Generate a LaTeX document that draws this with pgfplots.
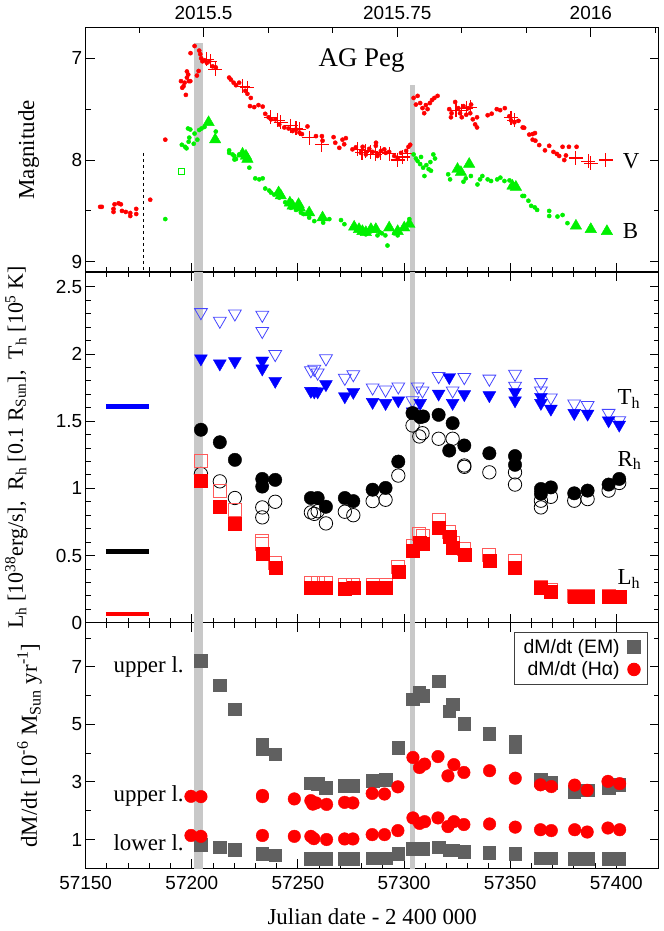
\documentclass[border=0pt]{standalone}
\usepackage{fontspec}
\setmainfont{Liberation Serif}
\newfontfamily\sansf{Liberation Sans}
\usepackage{pgfplots}
\pgfplotsset{compat=1.18}

\definecolor{gpred}{RGB}{255,0,0}
\definecolor{gpgreen}{RGB}{0,240,0}
\definecolor{gpblue}{RGB}{0,0,255}
\definecolor{lblue}{RGB}{70,70,255}
\definecolor{lred}{RGB}{255,90,90}
\definecolor{band}{RGB}{200,200,200}
\definecolor{emgray}{RGB}{96,96,96}

\pgfplotsset{
  agbase/.style={
    scale only axis, width=573bp, xmin=57150, xmax=57420,
    scaled x ticks=false, scaled y ticks=false,
    axis line style={line width=1.1bp},
    tick style={black, line width=0.9bp},
    major tick length=9bp, minor tick length=5bp,
    tick label style={font=\sansf\fontsize{19}{19}\selectfont},
    /pgf/number format/assume math mode=true,
    xtick={57150,57200,57250,57300,57350,57400}, minor x tick num=4,
  },
  bandstyle/.style={fill=band, draw=none, forget plot},
  ylab/.style={every axis y label/.style={at={(axis description cs:#1,0.5)}, rotate=90, anchor=center, font=\fontsize{23}{24}\selectfont}},
}

\begin{document}
\begin{tikzpicture}
\useasboundingbox (0,0) rectangle (664bp,-931bp);

% ---------------- top panel: magnitudes
\begin{axis}[agbase, name=top, at={(85.7bp,-272bp)}, anchor=south west,
  height=244.3bp, ymin=6.7, ymax=9.1, y dir=reverse,
  xtick pos=bottom, xticklabels={},
  ytick={7,8,9}, minor y tick num=1,
  ylabel={Magnitude}, ylab=-0.0995,
]
\addplot[bandstyle] coordinates {(57201.1,6.85) (57205.4,6.85) (57205.4,9.2) (57201.1,9.2)} -- cycle;
\addplot[bandstyle] coordinates {(57302.8,7.26) (57305.0,7.26) (57305.0,9.2) (57302.8,9.2)} -- cycle;
\addplot[black, dashed, line width=0.8bp, dash pattern=on 3bp off 3bp, forget plot] coordinates {(57177.2,7.93) (57177.2,9.2)};
% V dots
\addplot[only marks, mark=*, mark size=2.1bp, color=gpred] coordinates {
(57156.8,8.46) (57157.6,8.46) (57163.1,8.48) (57163.1,8.51) (57163.6,8.435) (57165.5,8.425) (57166.6,8.435) (57167.1,8.5) (57168.9,8.51) (57171.0,8.52) (57171.0,8.55) (57173.8,8.48) (57173.8,8.53) (57180.4,8.39) (57187.5,7.80)
(57194.9,7.225) (57195.5,7.29) (57196.1,7.275) (57196.6,7.24) (57197.2,7.36) (57197.7,7.13) (57197.7,7.19) (57198.3,7.16) (57198.6,7.225) (57199.3,7.225) (57199.4,6.95) (57201.3,6.88) (57202.4,7.17) (57203.2,7.125) (57203.5,6.925) (57204.0,6.96) (57204.4,7.0) (57205.0,7.03) (57206.0,7.02) (57207.1,7.045) (57208.2,7.03) (57209.8,7.08) (57211.3,7.09) (57217.6,7.19) (57219.7,7.24)
(57218.4,7.21) (57220.8,7.265) (57222.3,7.24) (57225.2,7.32) (57226.2,7.35) (57227.8,7.39) (57227.4,7.47) (57229.4,7.48) (57231.4,7.46) (57233.4,7.475) (57234.6,7.546) (57236.2,7.58) (57237.3,7.6) (57239.4,7.6) (57241.2,7.65) (57243.6,7.68) (57245.6,7.69) (57247.5,7.715) (57249.1,7.70) (57250.7,7.73) (57251.9,7.745) (57254.5,7.67) (57258.5,7.765) (57261.3,7.765) (57261.6,7.81) (57266.8,7.775) (57267.6,7.83) (57269.5,7.88) (57271.0,7.80) (57271.8,7.845) (57272.6,7.785) (57275.7,7.895) (57277.3,7.875) (57279.7,7.93) (57280.5,7.87) (57282.0,7.945) (57283.6,7.89) (57285.2,7.92) (57286.7,7.86) (57287.5,7.96)
(57286.8,7.83) (57287.6,7.94) (57289.1,7.91) (57290.7,7.895) (57291.4,7.93) (57293.0,7.92) (57295.4,7.96) (57297.0,7.99) (57298.6,7.93) (57301.0,7.91) (57302.1,7.87) (57302.9,7.85)
(57304.5,7.39) (57305.6,7.455) (57306.4,7.37) (57307.6,7.44) (57308.7,7.49) (57309.5,7.54) (57310.3,7.46) (57311.1,7.50) (57312.2,7.44) (57313.2,7.41) (57314.3,7.39) (57315.8,7.37) (57321.3,7.50) (57322.1,7.58) (57322.4,7.54) (57324.1,7.43) (57325.6,7.49) (57326.4,7.54) (57327.2,7.58) (57328.0,7.47) (57329.3,7.555) (57330.4,7.49) (57331.2,7.54) (57331.6,7.455) (57332.4,7.60) (57333.5,7.65) (57334.4,7.58) (57334.4,7.68) (57339.4,7.56) (57341.3,7.545) (57343.7,7.50) (57345.3,7.51) (57347.5,7.49) (57349.6,7.57) (57350.4,7.61) (57352.0,7.63) (57353.9,7.615) (57355.9,7.68)
(57356.6,7.683) (57359.0,7.75) (57360.6,7.745) (57361.7,7.735) (57360.6,7.80) (57361.9,7.81) (57363.7,7.853) (57366.4,7.905) (57368.4,7.86) (57370.4,7.92) (57372.0,7.94) (57373.1,7.96) (57374.7,7.87) (57375.5,8.0) (57376.3,7.955) (57377.7,7.87) (57381.3,7.87)
};
% V crosses
\addplot[only marks, mark=+, mark size=7bp, color=gpred, mark options={line width=1.1bp}] coordinates {
(57207.1,7.01) (57208.7,7.03) (57211.0,7.11) (57223.9,7.275) (57226.2,7.29) (57237.2,7.58) (57240.4,7.61) (57241.9,7.63) (57246.6,7.665) (57249.1,7.69) (57250.7,7.70) (57255.3,7.78) (57261.3,7.85) (57278.1,7.895) (57280.2,7.93) (57282.0,7.91) (57284.4,7.92) (57286.4,7.945) (57289.1,7.93) (57293.0,7.94) (57297.0,8.0) (57299.4,7.97) (57301.7,7.94) (57324.5,7.51) (57327.0,7.515) (57329.3,7.49) (57331.2,7.48) (57350.4,7.585) (57352.0,7.61) (57381.0,7.98) (57386.8,8.01) (57388.0,8.03) (57395.1,8.0)
};
% B dots
\addplot[only marks, mark=*, mark size=2.1bp, color=gpgreen] coordinates {
(57187.5,8.58) (57195.3,7.85) (57196.8,7.87) (57197.5,7.885) (57198.2,7.69) (57198.8,7.78) (57198.5,7.82) (57199.3,7.70) (57201.3,7.74) (57200.9,7.84) (57202.6,7.80) (57203.5,7.705) (57204.6,7.69) (57206.0,7.675) (57211.3,7.72) (57217.6,7.905) (57219.2,7.945) (57220.1,7.995)
(57217.6,7.93) (57220.0,7.96) (57220.8,7.99) (57222.3,7.945) (57227.1,8.075) (57229.9,8.18) (57231.8,8.19) (57233.4,8.18) (57234.6,8.28) (57236.5,8.30) (57237.3,8.32) (57238.8,8.34) (57241.2,8.37) (57244.0,8.415) (57246.7,8.47) (57249.1,8.49) (57251.4,8.517) (57252.5,8.53) (57255.3,8.566) (57257.7,8.60) (57261.9,8.615) (57264.8,8.58) (57270.3,8.59) (57271.9,8.63) (57275.7,8.665) (57277.3,8.68) (57279.7,8.71) (57282.0,8.73) (57284.4,8.70) (57286.7,8.68) (57287.5,8.74)
(57288.6,8.71) (57289.6,8.72) (57291.2,8.74) (57292.2,8.84) (57295.4,8.72) (57297.0,8.74) (57302.5,8.58) (57304.5,7.945) (57305.6,7.985) (57306.4,8.01) (57307.6,8.04) (57308.0,7.97) (57309.0,8.075) (57309.6,8.157) (57310.5,8.05) (57311.6,8.09) (57312.4,8.02) (57312.7,8.105) (57313.8,7.945) (57314.6,7.985) (57320.8,8.14) (57321.7,8.19) (57328.0,8.213) (57329.1,8.18) (57331.5,8.157) (57334.6,8.24) (57335.8,8.19) (57336.9,8.157) (57339.4,8.19) (57341.0,8.206) (57343.9,8.19) (57345.4,8.173) (57347.3,8.206) (57349.7,8.2) (57355.8,8.353)
(57356.6,8.353) (57358.6,8.40) (57359.9,8.45) (57361.6,8.465) (57362.7,8.49) (57368.4,8.50) (57368.4,8.55) (57372.3,8.555) (57374.7,8.54) (57377.0,8.62)
};
% B triangles
\addplot[only marks, mark=triangle*, mark size=6.6bp, color=gpgreen] coordinates {
(57207.9,7.63) (57211.0,7.80) (57223.9,7.94) (57225.5,7.96) (57226.2,7.99) (57240.9,8.32) (57241.9,8.35) (57246.2,8.42) (57247.5,8.45) (57250.3,8.435) (57250.9,8.47) (57255.3,8.517) (57261.6,8.566) (57276.5,8.657) (57278.8,8.68) (57280.4,8.70) (57282.0,8.71) (57284.4,8.68) (57286.7,8.68) (57293.0,8.665) (57297.0,8.70) (57300.1,8.665) (57302.5,8.63) (57325.2,8.09) (57326.8,8.12) (57330.7,8.04) (57351.1,8.255) (57352.7,8.265) (57381.0,8.647) (57388.0,8.68) (57395.6,8.70)
};
% B open square
\addplot[only marks, mark=square, mark size=2.8bp, color=gpgreen, mark options={line width=0.9bp}] coordinates {(57195.0,8.115)};
\node[font=\fontsize{27}{27}\selectfont] at (axis cs:57280,7.02) {AG Peg};
\node[font=\fontsize{23}{23}\selectfont, anchor=west] at (axis cs:57401.5,8.01) {V};
\node[font=\fontsize{23}{23}\selectfont, anchor=west] at (axis cs:57401.5,8.70) {B};
\end{axis}

% year axis on top
\begin{axis}[agbase, at={(85.7bp,-272bp)}, anchor=south west,
  height=244.3bp, ymin=6.7, ymax=9.1, hide y axis, axis x line*=top,
  xtick={57205.5,57296.8,57388.0}, xticklabels={2015.5,2015.75,2016},
  minor xtick={57175.1,57235.9,57266.4,57327.2,57357.6,57418.5},
  xticklabel style={yshift=4bp},
]
\addplot[draw=none] coordinates {(57200,7)};
\end{axis}

% ---------------- middle panel: L, R, T
\begin{axis}[agbase, name=mid, at={(85.7bp,-622.7bp)}, anchor=south west,
  height=350.7bp, ymin=0, ymax=2.61,
  xticklabels={},
  ytick={0,0.5,1,1.5,2,2.5}, yticklabels={0,0.5,1,1.5,2,2.5}, minor y tick num=4,
  ylabel={L\textsubscript{h} [10\textsuperscript{38}erg/s],\ \ R\textsubscript{h} [0.1 R\textsubscript{Sun}],\ \ T\textsubscript{h} [10\textsuperscript{5} K]},
  ylab=-0.121,
  every axis y label/.append style={font=\fontsize{22}{23}\selectfont},
]
\addplot[bandstyle] coordinates {(57201.1,-1) (57205.4,-1) (57205.4,3) (57201.1,3)} -- cycle;
\addplot[bandstyle] coordinates {(57302.8,-1) (57305.0,-1) (57305.0,3) (57302.8,3)} -- cycle;
\addplot[gpblue, line width=4.5bp] coordinates {(57159.5,1.61) (57179.6,1.61)};
\addplot[black, line width=4.5bp] coordinates {(57159.5,0.53) (57179.6,0.53)};
\addplot[gpred, line width=4.5bp] coordinates {(57159.5,0.063) (57179.6,0.063)};
% T open
\addplot[only marks, mark=triangle, mark size=7.4bp, color=lblue, mark options={rotate=180, line width=0.8bp}] coordinates {
(57204.3,2.31) (57213.2,2.246) (57220.3,2.30) (57233.2,2.29) (57233.2,2.17) (57239.3,1.998) (57256.1,1.878) (57257.7,1.888) (57259.3,1.86) (57263.2,1.966) (57272.1,1.821) (57276.1,1.848) (57285.2,1.749) (57291.3,1.734) (57297.3,1.757) (57304.0,1.654) (57306.4,1.757) (57308.7,1.727) (57316.3,1.834) (57322.9,1.727) (57328.4,1.827) (57340.2,1.815) (57352.3,1.851) (57352.3,1.762) (57364.5,1.789) (57364.5,1.727) (57369.2,1.675) (57380.2,1.63) (57386.5,1.618) (57396.4,1.56) (57401.4,1.505)
};
% T filled
\addplot[only marks, mark=triangle*, mark size=7.4bp, color=gpblue, mark options={rotate=180}] coordinates {
(57204.3,1.966) (57213.2,1.928) (57220.3,1.945) (57233.2,1.95) (57233.2,1.891) (57239.3,1.799) (57256.1,1.724) (57257.7,1.72) (57259.3,1.72) (57263.2,1.774) (57272.1,1.684) (57276.1,1.717) (57285.2,1.642) (57291.3,1.634) (57297.3,1.654) (57304.0,1.572) (57307.6,1.635) (57316.3,1.704) (57321.3,1.827) (57322.9,1.635) (57328.4,1.70) (57340.2,1.692) (57352.3,1.717) (57352.3,1.654) (57364.5,1.68) (57364.5,1.635) (57369.2,1.592) (57380.2,1.56) (57386.5,1.555) (57396.4,1.505) (57401.4,1.473)
};
% R open
\addplot[only marks, mark=o, mark size=6.7bp, color=black, mark options={line width=0.8bp}] coordinates {
(57204.3,1.107) (57213.2,1.052) (57220.3,0.928) (57233.2,0.858) (57233.2,0.784) (57239.3,0.90) (57256.1,0.821) (57257.7,0.81) (57259.3,0.83) (57263.2,0.739) (57272.1,0.826) (57276.1,0.80) (57285.2,0.905) (57291.3,0.915) (57297.3,1.095) (57304.0,1.468) (57307.2,1.386) (57308.7,1.41) (57316.3,1.369) (57322.9,1.369) (57328.4,1.17) (57328.4,1.16) (57340.2,1.119) (57352.3,1.119) (57352.3,1.028) (57364.5,0.908) (57364.5,0.858) (57369.2,0.937) (57380.2,0.908) (57386.5,0.92) (57396.4,0.983) (57401.4,1.04)
};
% R filled
\addplot[only marks, mark=*, mark size=6.7bp, color=black] coordinates {
(57204.3,1.436) (57213.2,1.343) (57220.3,1.212) (57233.2,1.07) (57233.2,1.013) (57239.3,1.063) (57256.1,0.928) (57259.3,0.928) (57263.2,0.863) (57272.1,0.928) (57276.1,0.905) (57285.2,0.99) (57291.3,1.003) (57297.3,1.199) (57304.0,1.56) (57307.6,1.53) (57309.0,1.535) (57316.3,1.547) (57321.3,1.281) (57322.9,1.485) (57328.4,1.319) (57340.2,1.261) (57352.3,1.24) (57352.3,1.175) (57364.5,0.995) (57364.5,0.96) (57369.2,1.007) (57380.2,0.963) (57386.5,0.983) (57396.4,1.028) (57401.4,1.07)
};
% L open
\addplot[only marks, mark=square, mark size=6.5bp, color=lred, mark options={line width=0.8bp}] coordinates {
(57204.3,1.207) (57213.2,0.978) (57220.3,0.839) (57233.2,0.61) (57233.2,0.585) (57239.3,0.448) (57256.1,0.299) (57259.3,0.299) (57263.2,0.299) (57272.1,0.28) (57276.1,0.285) (57285.2,0.285) (57291.3,0.285) (57297.3,0.418) (57304.0,0.572) (57307.2,0.66) (57309.0,0.645) (57316.3,0.764) (57321.3,0.673) (57322.9,0.597) (57328.4,0.548) (57340.2,0.505) (57352.3,0.462) (57364.5,0.27) (57369.2,0.245) (57380.2,0.2) (57386.5,0.2) (57396.4,0.2) (57401.4,0.195)
};
% L filled
\addplot[only marks, mark=square*, mark size=6.5bp, color=gpred] coordinates {
(57204.3,1.057) (57213.2,0.863) (57220.3,0.734) (57233.2,0.51) (57239.3,0.41) (57256.1,0.261) (57259.3,0.261) (57263.2,0.261) (57272.1,0.255) (57276.1,0.258) (57285.2,0.257) (57291.3,0.257) (57297.3,0.378) (57304.0,0.535) (57307.2,0.597) (57309.0,0.585) (57316.3,0.709) (57321.3,0.64) (57322.9,0.56) (57328.4,0.503) (57340.2,0.462) (57352.3,0.41) (57364.5,0.257) (57369.2,0.232) (57380.2,0.19) (57386.5,0.19) (57396.4,0.19) (57401.4,0.19)
};
\node[font=\fontsize{23}{23}\selectfont, anchor=west] at (axis cs:57399,1.667) {T\textsubscript{h}};
\node[font=\fontsize{23}{23}\selectfont, anchor=west] at (axis cs:57399,1.207) {R\textsubscript{h}};
\node[font=\fontsize{23}{23}\selectfont, anchor=west] at (axis cs:57399,0.326) {L\textsubscript{h}};
\end{axis}

% ---------------- bottom panel: dM/dt
\begin{axis}[agbase, name=bot, at={(85.7bp,-868.3bp)}, anchor=south west,
  height=245.6bp, ymin=0, ymax=8.53,
  xticklabels={57150,57200,57250,57300,57350,57400},
  xticklabel style={yshift=-4bp},
  ytick={1,3,5,7}, minor ytick={2,4,6,8},
  xlabel={Julian date - 2 400 000},
  every axis x label/.style={at={(axis description cs:0.5,0)}, yshift=-48bp, anchor=center, font=\fontsize{23}{24}\selectfont},
  ylabel={dM/dt [10\textsuperscript{-6} M\textsubscript{Sun} yr\textsuperscript{-1}]},
  ylab=-0.098,
  legend plot pos=right, legend cell align=right,
  legend style={at={(rel axis cs:1,1)}, anchor=north east, xshift=-11bp, yshift=-9bp,
    font=\sansf\fontsize{19.5}{19.5}\selectfont, draw=black!75, line width=0.8bp,
    row sep=3bp, inner xsep=7bp, inner ysep=5bp},
]
\addplot[bandstyle] coordinates {(57201.1,-1) (57205.4,-1) (57205.4,10) (57201.1,10)} -- cycle;
\addplot[bandstyle] coordinates {(57302.8,-1) (57305.0,-1) (57305.0,10) (57302.8,10)} -- cycle;
% EM upper
\addplot[only marks, mark=square*, mark size=6.3bp, color=emgray] coordinates {
(57204.3,7.22) (57213.2,6.36) (57220.3,5.52) (57233.2,4.3) (57233.2,4.15) (57239.3,3.97) (57256.1,2.95) (57259.3,2.93) (57263.2,2.81) (57272.1,2.87) (57276.1,2.86) (57285.2,3.04) (57291.3,3.08) (57297.3,4.19) (57304.0,5.87) (57307.2,6.1) (57309.0,6.0) (57316.3,6.5) (57321.3,5.46) (57322.9,5.7) (57328.4,5.02) (57340.2,4.68) (57352.3,4.4) (57352.3,4.2) (57364.5,3.07) (57369.2,2.98) (57380.2,2.67) (57386.5,2.71) (57396.4,2.81) (57401.4,2.9)
};
\addlegendentry{dM/dt (EM)\hspace*{6bp}}
% EM lower
\addplot[only marks, mark=square*, mark size=6.3bp, color=emgray, forget plot] coordinates {
(57204.3,0.83) (57213.2,0.73) (57220.3,0.64) (57233.2,0.5) (57239.3,0.45) (57256.1,0.33) (57259.3,0.33) (57263.2,0.33) (57272.1,0.33) (57276.1,0.33) (57285.2,0.35) (57291.3,0.35) (57297.3,0.5) (57304.0,0.68) (57307.2,0.68) (57309.0,0.68) (57316.3,0.74) (57321.3,0.63) (57322.9,0.63) (57328.4,0.57) (57340.2,0.55) (57352.3,0.5) (57364.5,0.35) (57369.2,0.35) (57380.2,0.33) (57386.5,0.33) (57396.4,0.33) (57401.4,0.33)
};
% Halpha upper
\addplot[only marks, mark=*, mark size=6.3bp, color=gpred] coordinates {
(57199.6,2.5) (57204.3,2.49) (57233.3,2.49) (57233.3,2.53) (57248.3,2.41) (57256.1,2.35) (57257.0,2.23) (57258.5,2.27) (57263.5,2.22) (57272.0,2.29) (57275.9,2.27) (57285.0,2.6) (57290.8,2.58) (57297.1,2.83) (57304.2,3.85) (57307.3,3.5) (57309.7,3.62) (57316.0,3.88) (57320.7,3.21) (57323.5,3.6) (57328.2,3.33) (57340.3,3.39) (57352.4,3.13) (57364.3,2.9) (57369.4,2.84) (57380.4,2.89) (57386.3,2.71) (57396.1,3.02) (57401.6,2.94)
};
\addlegendentry{dM/dt (Hα)\hspace*{6bp}}
% Halpha lower
\addplot[only marks, mark=*, mark size=6.3bp, color=gpred, forget plot] coordinates {
(57199.6,1.14) (57204.3,1.11) (57233.3,1.14) (57248.3,1.11) (57256.1,1.11) (57257.5,1.03) (57263.5,1.0) (57272.0,1.02) (57275.9,1.02) (57285.0,1.17) (57290.8,1.17) (57297.1,1.31) (57304.2,1.75) (57307.3,1.56) (57309.7,1.62) (57316.0,1.75) (57320.7,1.45) (57323.5,1.62) (57328.2,1.52) (57340.3,1.54) (57352.4,1.43) (57364.3,1.34) (57369.4,1.31) (57380.4,1.34) (57386.3,1.26) (57396.1,1.4) (57401.6,1.34)
};
\node[font=\fontsize{23}{23}\selectfont, anchor=west] at (axis cs:57161.5,7.0) {upper l.};
\node[font=\fontsize{23}{23}\selectfont, anchor=west] at (axis cs:57161.5,2.52) {upper l.};
\node[font=\fontsize{23}{23}\selectfont, anchor=west] at (axis cs:57161.5,0.9) {lower l.};
\end{axis}
\end{tikzpicture}
\end{document}
